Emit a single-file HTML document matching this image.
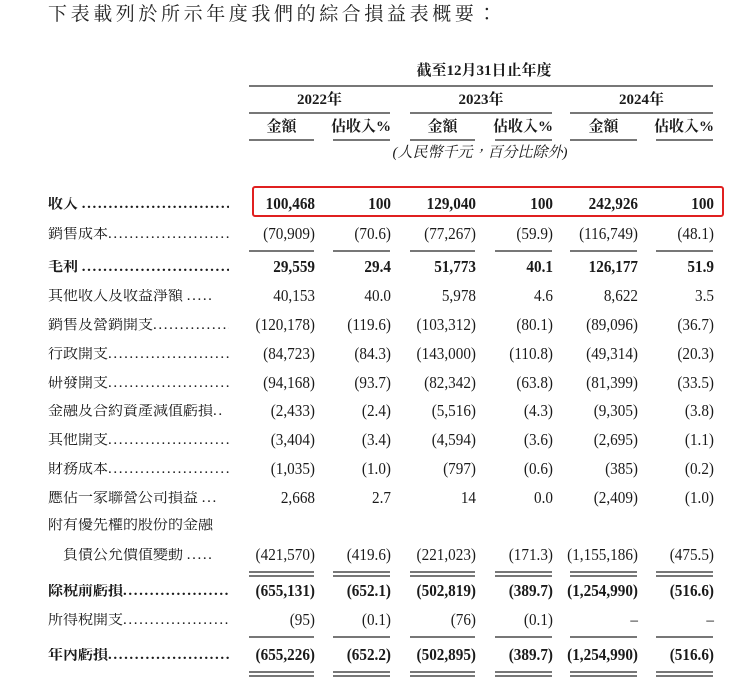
<!DOCTYPE html>
<html><head><meta charset="utf-8"><style>
body{margin:0;width:744px;height:681px;background:#fff;position:relative;overflow:hidden;color:#1a1a1a;font-family:"Liberation Serif","Noto Serif CJK SC",serif}
.a{position:absolute;white-space:nowrap;line-height:1}
.t{left:48px;top:5px;font-size:19px;letter-spacing:3.6px;font-family:"Liberation Serif","Noto Serif CJK TC",serif;color:#222}
.l{left:48px;width:181px;overflow:hidden;font-size:15px;font-family:"Liberation Serif","Noto Serif CJK TC",serif}
.d{letter-spacing:1.6px}
.n{font-size:16.5px;text-align:right;transform:scaleX(0.92);transform-origin:right}
.b{font-weight:bold}
.h{font-size:15px;font-weight:bold;text-align:center;font-family:"Liberation Serif","Noto Serif CJK TC",serif}
.ln{position:absolute;height:0;border-top:2px solid #777}
.dl{position:absolute;height:2px;border-top:2px solid #777;border-bottom:2px solid #777}
</style></head><body>
<div class="a t">下表載列於所示年度我們的綜合損益表概要：</div>

<div class="a h" style="left:248px;width:472px;top:64px">截至12月31日止年度</div>
<div class="ln" style="left:249px;width:464px;top:85px"></div>
<div class="a h" style="left:249px;width:141px;top:93px">2022年</div>
<div class="a h" style="left:410px;width:142px;top:93px">2023年</div>
<div class="a h" style="left:570px;width:143px;top:93px">2024年</div>
<div class="ln" style="left:249px;width:141px;top:112px"></div>
<div class="ln" style="left:410px;width:142px;top:112px"></div>
<div class="ln" style="left:570px;width:143px;top:112px"></div>
<div class="a h" style="left:249px;width:65px;top:120px">金額</div>
<div class="a h" style="left:328px;width:66px;top:120px">佔收入%</div>
<div class="a h" style="left:410px;width:65px;top:120px">金額</div>
<div class="a h" style="left:490px;width:66px;top:120px">佔收入%</div>
<div class="a h" style="left:570px;width:67px;top:120px">金額</div>
<div class="a h" style="left:651px;width:66px;top:120px">佔收入%</div>
<div class="ln" style="left:249px;width:65px;top:139px"></div>
<div class="ln" style="left:333px;width:57px;top:139px"></div>
<div class="ln" style="left:410px;width:65px;top:139px"></div>
<div class="ln" style="left:495px;width:57px;top:139px"></div>
<div class="ln" style="left:570px;width:67px;top:139px"></div>
<div class="ln" style="left:656px;width:57px;top:139px"></div>
<div class="a" style="left:380px;width:200px;top:146px;font-size:15px;font-style:italic;text-align:center;font-family:'Liberation Serif','Noto Serif CJK TC',serif">(人民幣千元，百分比除外)</div>

<div style="position:absolute;left:252px;top:186px;width:468px;height:27px;border:2px solid #e02020;border-radius:3px"></div>

<div id="rows"></div>
<script>
var D="..............................................";
var R=[
["收入 ",D,205,1,["100,468","100","129,040","100","242,926","100"]],
["銷售成本",D,235,0,["(70,909)","(70.6)","(77,267)","(59.9)","(116,749)","(48.1)"]],
["毛利 ",D,268,1,["29,559","29.4","51,773","40.1","126,177","51.9"]],
["其他收入及收益淨額 ",".....",297,0,["40,153","40.0","5,978","4.6","8,622","3.5"]],
["銷售及營銷開支",D,326,0,["(120,178)","(119.6)","(103,312)","(80.1)","(89,096)","(36.7)"]],
["行政開支",D,355,0,["(84,723)","(84.3)","(143,000)","(110.8)","(49,314)","(20.3)"]],
["研發開支",D,384,0,["(94,168)","(93.7)","(82,342)","(63.8)","(81,399)","(33.5)"]],
["金融及合約資產減值虧損","..",412,0,["(2,433)","(2.4)","(5,516)","(4.3)","(9,305)","(3.8)"]],
["其他開支",D,441,0,["(3,404)","(3.4)","(4,594)","(3.6)","(2,695)","(1.1)"]],
["財務成本",D,470,0,["(1,035)","(1.0)","(797)","(0.6)","(385)","(0.2)"]],
["應佔一家聯營公司損益 ","...",499,0,["2,668","2.7","14","0.0","(2,409)","(1.0)"]],
["附有優先權的股份的金融","",526,0,null],
["　負債公允價值變動 ",".....",556,0,["(421,570)","(419.6)","(221,023)","(171.3)","(1,155,186)","(475.5)"]],
["除稅前虧損",D,592,1,["(655,131)","(652.1)","(502,819)","(389.7)","(1,254,990)","(516.6)"]],
["所得稅開支",D,621,0,["(95)","(0.1)","(76)","(0.1)","–","–"]],
["年內虧損",D,656,1,["(655,226)","(652.2)","(502,895)","(389.7)","(1,254,990)","(516.6)"]]
];
var X=[315,391,476,553,638,714],h="";
R.forEach(function(r){
 var y=r[2]-8;
 h+='<div class="a l'+(r[3]?' b':'')+'" style="top:'+y+'px">'+r[0]+'<span class="d">'+r[1]+'</span></div>';
 if(r[4])r[4].forEach(function(v,i){h+='<div class="a n'+(r[3]?' b':'')+'" style="left:'+(X[i]-120)+'px;width:120px;top:'+(y-1)+'px">'+v+'</div>';});
});
var S=[[249,65],[333,57],[410,65],[495,57],[570,67],[656,57]];
S.forEach(function(s){
 h+='<div class="ln" style="left:'+s[0]+'px;width:'+s[1]+'px;top:250px"></div>';
 h+='<div class="dl" style="left:'+s[0]+'px;width:'+s[1]+'px;top:571px"></div>';
 h+='<div class="ln" style="left:'+s[0]+'px;width:'+s[1]+'px;top:636px"></div>';
 h+='<div class="dl" style="left:'+s[0]+'px;width:'+s[1]+'px;top:671px"></div>';
});
document.getElementById('rows').innerHTML=h;
</script>
</body></html>
